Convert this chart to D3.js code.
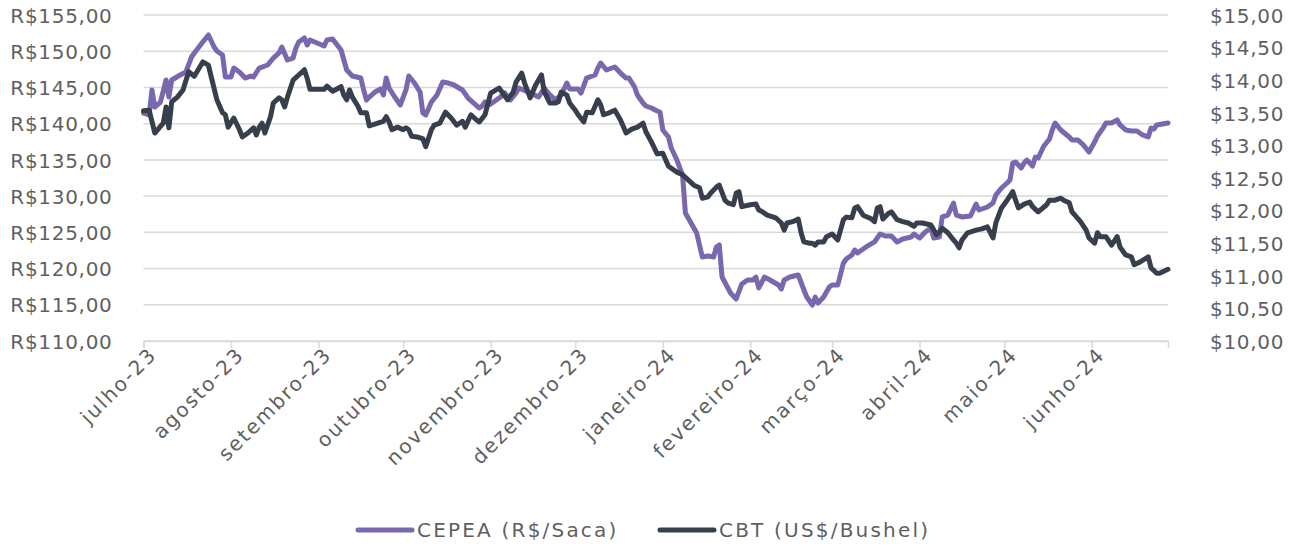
<!DOCTYPE html>
<html><head><meta charset="utf-8">
<script src="https://cdn.jsdelivr.net/npm/d3@7"></script>
<style>
body{margin:0;background:#fff}
svg text{font-family:'DejaVu Sans',sans-serif;fill:#5f5f5f}
</style>
</head><body>
<svg id="chart" width="1290" height="550"></svg>
<script>
const seriesNames = ["CEPEA (R$/Saca)", "CBT (US$/Bushel)"];

const cepeaDates = ["2023-07-01","2023-07-03","2023-07-04","2023-07-05","2023-07-07","2023-07-09","2023-07-10","2023-07-11","2023-07-14","2023-07-16","2023-07-18","2023-07-19","2023-07-22","2023-07-24","2023-07-26","2023-07-27","2023-07-29","2023-07-30","2023-08-01","2023-08-02","2023-08-04","2023-08-06","2023-08-08","2023-08-09","2023-08-11","2023-08-14","2023-08-16","2023-08-18","2023-08-19","2023-08-21","2023-08-23","2023-08-24","2023-08-25","2023-08-27","2023-08-28","2023-08-29","2023-09-03","2023-09-04","2023-09-06","2023-09-09","2023-09-10","2023-09-11","2023-09-13","2023-09-16","2023-09-17","2023-09-18","2023-09-19","2023-09-21","2023-09-23","2023-09-24","2023-09-25","2023-09-26","2023-09-28","2023-09-30","2023-10-02","2023-10-03","2023-10-05","2023-10-07","2023-10-08","2023-10-09","2023-10-11","2023-10-13","2023-10-15","2023-10-17","2023-10-19","2023-10-22","2023-10-24","2023-10-26","2023-10-28","2023-10-29","2023-10-30","2023-10-31","2023-11-01","2023-11-04","2023-11-06","2023-11-08","2023-11-10","2023-11-11","2023-11-15","2023-11-18","2023-11-20","2023-11-22","2023-11-24","2023-11-26","2023-11-28","2023-11-29","2023-12-02","2023-12-03","2023-12-05","2023-12-08","2023-12-09","2023-12-10","2023-12-12","2023-12-15","2023-12-17","2023-12-19","2023-12-20","2023-12-22","2023-12-23","2023-12-25","2023-12-26","2023-12-28","2023-12-30","2023-12-31","2024-01-01","2024-01-03","2024-01-04","2024-01-06","2024-01-08","2024-01-09","2024-01-11","2024-01-13","2024-01-15","2024-01-17","2024-01-19","2024-01-20","2024-01-21","2024-01-22","2024-01-25","2024-01-27","2024-01-29","2024-01-31","2024-02-02","2024-02-03","2024-02-04","2024-02-06","2024-02-08","2024-02-11","2024-02-12","2024-02-13","2024-02-15","2024-02-18","2024-02-20","2024-02-21","2024-02-23","2024-02-24","2024-02-25","2024-02-27","2024-02-29","2024-03-01","2024-03-03","2024-03-05","2024-03-06","2024-03-08","2024-03-09","2024-03-10","2024-03-11","2024-03-13","2024-03-16","2024-03-18","2024-03-20","2024-03-22","2024-03-24","2024-03-26","2024-03-29","2024-03-30","2024-04-01","2024-04-03","2024-04-05","2024-04-06","2024-04-08","2024-04-09","2024-04-11","2024-04-13","2024-04-14","2024-04-16","2024-04-19","2024-04-21","2024-04-22","2024-04-25","2024-04-27","2024-04-28","2024-04-30","2024-05-02","2024-05-03","2024-05-04","2024-05-05","2024-05-07","2024-05-08","2024-05-09","2024-05-11","2024-05-12","2024-05-13","2024-05-14","2024-05-15","2024-05-17","2024-05-18","2024-05-19","2024-05-21","2024-05-24","2024-05-25","2024-05-27","2024-05-29","2024-05-31","2024-06-02","2024-06-03","2024-06-05","2024-06-06","2024-06-08","2024-06-10","2024-06-11","2024-06-13","2024-06-15","2024-06-17","2024-06-19","2024-06-21","2024-06-22","2024-06-23","2024-06-24","2024-06-26","2024-06-28"];
const cepeaValues = [141.47,141.20,144.65,142.30,142.99,146.03,143.68,146.03,146.72,147.13,149.20,149.76,151.27,152.24,150.58,150.03,149.48,146.44,146.44,147.68,147.13,146.30,146.58,146.44,147.68,148.10,149.06,149.76,150.58,148.79,149.06,150.45,151.27,151.83,150.86,151.55,150.72,151.55,151.69,150.17,148.79,147.41,146.58,146.30,144.65,143.27,143.68,144.37,144.79,143.96,146.30,144.92,143.68,142.58,144.65,146.58,145.61,144.37,141.47,141.20,142.99,143.96,145.75,145.61,145.34,144.65,143.54,142.85,142.16,142.44,142.99,142.58,142.71,143.54,144.23,143.27,144.23,144.92,144.23,143.68,144.92,143.96,143.27,143.96,145.61,144.79,144.79,144.23,146.30,146.72,147.68,148.37,147.41,147.82,146.99,146.30,146.30,145.06,143.96,142.85,142.44,142.16,141.75,141.61,139.13,138.16,136.64,134.98,132.91,127.67,126.29,124.91,121.60,121.73,121.60,122.98,123.25,118.83,116.63,115.80,117.87,118.42,118.42,118.83,117.32,118.83,118.42,117.73,117.18,118.42,118.83,119.11,117.04,116.07,114.97,116.07,115.25,116.07,117.45,117.73,117.73,120.77,121.32,121.87,122.56,122.15,122.42,122.98,123.67,124.77,124.49,124.49,123.67,124.08,124.36,124.77,124.22,125.05,125.60,124.22,124.36,127.12,127.39,129.05,127.39,127.12,127.26,128.91,128.08,128.50,129.05,130.15,131.12,131.81,132.22,134.57,134.71,133.88,134.57,134.98,134.16,135.40,135.26,136.09,136.92,137.88,139.13,140.09,139.13,138.16,137.75,137.75,137.06,136.09,137.47,138.30,139.40,140.09,140.09,140.51,139.82,139.13,138.99,138.99,138.44,138.16,139.40,139.26,139.82,139.95,140.09];

const cbtDates = ["2023-07-01","2023-07-03","2023-07-05","2023-07-08","2023-07-09","2023-07-10","2023-07-11","2023-07-13","2023-07-15","2023-07-17","2023-07-19","2023-07-22","2023-07-24","2023-07-25","2023-07-27","2023-07-29","2023-07-30","2023-07-31","2023-08-02","2023-08-04","2023-08-05","2023-08-07","2023-08-09","2023-08-10","2023-08-11","2023-08-12","2023-08-13","2023-08-15","2023-08-16","2023-08-18","2023-08-19","2023-08-20","2023-08-21","2023-08-23","2023-08-25","2023-08-27","2023-08-28","2023-08-29","2023-09-01","2023-09-03","2023-09-04","2023-09-06","2023-09-09","2023-09-10","2023-09-11","2023-09-12","2023-09-13","2023-09-15","2023-09-16","2023-09-18","2023-09-19","2023-09-22","2023-09-24","2023-09-25","2023-09-26","2023-09-27","2023-09-29","2023-10-01","2023-10-02","2023-10-03","2023-10-04","2023-10-06","2023-10-08","2023-10-09","2023-10-11","2023-10-12","2023-10-14","2023-10-16","2023-10-18","2023-10-20","2023-10-22","2023-10-23","2023-10-25","2023-10-27","2023-10-28","2023-10-30","2023-11-01","2023-11-04","2023-11-05","2023-11-07","2023-11-09","2023-11-10","2023-11-12","2023-11-13","2023-11-15","2023-11-17","2023-11-19","2023-11-20","2023-11-22","2023-11-24","2023-11-25","2023-11-26","2023-11-28","2023-11-29","2023-12-01","2023-12-02","2023-12-04","2023-12-05","2023-12-07","2023-12-09","2023-12-10","2023-12-11","2023-12-13","2023-12-15","2023-12-17","2023-12-19","2023-12-21","2023-12-23","2023-12-25","2023-12-26","2023-12-28","2023-12-30","2024-01-01","2024-01-03","2024-01-04","2024-01-06","2024-01-08","2024-01-10","2024-01-12","2024-01-14","2024-01-15","2024-01-17","2024-01-18","2024-01-20","2024-01-21","2024-01-23","2024-01-24","2024-01-26","2024-01-27","2024-01-28","2024-01-29","2024-02-01","2024-02-03","2024-02-04","2024-02-05","2024-02-07","2024-02-10","2024-02-12","2024-02-13","2024-02-14","2024-02-16","2024-02-18","2024-02-19","2024-02-20","2024-02-22","2024-02-23","2024-02-24","2024-02-25","2024-02-27","2024-02-28","2024-03-01","2024-03-03","2024-03-05","2024-03-06","2024-03-08","2024-03-09","2024-03-10","2024-03-12","2024-03-15","2024-03-16","2024-03-17","2024-03-18","2024-03-19","2024-03-21","2024-03-22","2024-03-24","2024-03-26","2024-03-28","2024-03-30","2024-03-31","2024-04-02","2024-04-05","2024-04-07","2024-04-08","2024-04-09","2024-04-11","2024-04-13","2024-04-14","2024-04-15","2024-04-16","2024-04-18","2024-04-21","2024-04-23","2024-04-25","2024-04-27","2024-04-28","2024-04-30","2024-05-02","2024-05-04","2024-05-05","2024-05-06","2024-05-08","2024-05-10","2024-05-11","2024-05-13","2024-05-16","2024-05-17","2024-05-19","2024-05-21","2024-05-22","2024-05-24","2024-05-25","2024-05-28","2024-05-30","2024-05-31","2024-06-02","2024-06-03","2024-06-04","2024-06-06","2024-06-08","2024-06-10","2024-06-11","2024-06-13","2024-06-15","2024-06-16","2024-06-18","2024-06-21","2024-06-22","2024-06-24","2024-06-25","2024-06-28"];
const cbtValues = [13.53,13.54,13.19,13.34,13.59,13.27,13.67,13.74,13.85,14.13,14.06,14.28,14.23,14.05,13.70,13.50,13.47,13.28,13.42,13.24,13.13,13.19,13.27,13.16,13.28,13.34,13.19,13.44,13.65,13.73,13.70,13.59,13.74,14.00,14.08,14.16,14.03,13.86,13.86,13.86,13.91,13.83,13.90,13.77,13.70,13.85,13.74,13.60,13.50,13.50,13.30,13.34,13.37,13.44,13.36,13.24,13.28,13.24,13.27,13.24,13.14,13.13,13.10,12.98,13.24,13.31,13.34,13.51,13.42,13.31,13.37,13.28,13.47,13.39,13.36,13.47,13.80,13.88,13.82,13.70,13.82,13.97,14.11,13.96,13.73,13.93,14.08,13.82,13.65,13.65,13.67,13.82,13.77,13.65,13.54,13.47,13.36,13.51,13.50,13.70,13.62,13.47,13.50,13.54,13.39,13.19,13.25,13.28,13.34,13.21,13.05,12.87,12.88,12.68,12.65,12.59,12.55,12.47,12.39,12.35,12.19,12.21,12.27,12.36,12.39,12.16,12.12,12.09,12.27,12.29,12.06,12.09,12.10,12.01,11.99,11.93,11.89,11.81,11.70,11.81,11.83,11.87,11.66,11.52,11.50,11.50,11.47,11.52,11.52,11.60,11.64,11.55,11.86,11.90,11.89,12.04,12.06,11.93,11.87,11.83,12.04,12.06,11.87,11.96,11.98,11.86,11.83,11.81,11.76,11.81,11.81,11.78,11.63,11.67,11.73,11.66,11.55,11.50,11.43,11.55,11.66,11.70,11.72,11.75,11.58,11.81,12.04,12.16,12.29,12.16,12.04,12.10,12.13,12.06,11.98,12.09,12.16,12.16,12.19,12.16,12.12,11.98,11.83,11.70,11.58,11.50,11.66,11.60,11.60,11.47,11.60,11.44,11.32,11.29,11.17,11.21,11.29,11.12,11.04,11.04,11.10];

const leftTicks = [110,115,120,125,130,135,140,145,150,155];
const rightTicks = [10,10.5,11,11.5,12,12.5,13,13.5,14,14.5,15];
const monthTicks = ["2023-07-01","2023-08-01","2023-09-01","2023-10-01","2023-11-01","2023-12-01","2024-01-01","2024-02-01","2024-03-01","2024-04-01","2024-05-01","2024-06-01"];
const monthLabels = ["julho-23","agosto-23","setembro-23","outubro-23","novembro-23","dezembro-23","janeiro-24","fevereiro-24","março-24","abril-24","maio-24","junho-24"];
const xDomain = ["2023-07-01","2024-06-28"];

const colors = ["#7A68AE", "#373E4C"];
const parse = d3.timeParse("%Y-%m-%d");
const svg = d3.select("#chart");

const plot = {left: 143.5, right: 1168, top: 15, bottom: 341};
const x = d3.scaleTime().domain(xDomain.map(parse)).range([plot.left, plot.right]);
const yL = d3.scaleLinear().domain([110,155]).range([plot.bottom, plot.top]);
const yR = d3.scaleLinear().domain([10,15]).range([plot.bottom, plot.top]);

const fmt = v => v.toFixed(2).replace(".", ",");

// gridlines
svg.append("g").selectAll("line").data(leftTicks).join("line")
  .attr("x1", plot.left).attr("x2", plot.right)
  .attr("y1", d => yL(d)).attr("y2", d => yL(d))
  .attr("stroke", "#D9D9D9").attr("stroke-width", 1.5);

// left axis labels
const gL = svg.append("g").attr("transform", `translate(${plot.left},0)`)
  .call(d3.axisLeft(yL).tickValues(leftTicks).tickSize(0).tickPadding(31).tickFormat(d => "R$" + fmt(d)));
gL.select(".domain").remove();
gL.selectAll("text").style("font-size", "20px").style("letter-spacing", "0.7px").attr("dy", "0.36em");

// right axis labels
const gR = svg.append("g").attr("transform", `translate(${plot.right},0)`)
  .call(d3.axisRight(yR).tickValues(rightTicks).tickSize(0).tickPadding(42).tickFormat(d => "$" + fmt(d)));
gR.select(".domain").remove();
gR.selectAll("text").style("font-size", "20px").style("letter-spacing", "0.7px").attr("dy", "0.36em");

// x axis
const gX = svg.append("g").attr("transform", `translate(0,${plot.bottom})`)
  .call(d3.axisBottom(x).tickValues(monthTicks.map(parse)).tickSize(7).tickFormat((d,i) => monthLabels[i]));
gX.select(".domain").attr("stroke", "#D9D9D9").attr("stroke-width", 1.5);
gX.selectAll(".tick line").attr("stroke", "#D9D9D9").attr("stroke-width", 1.5);
gX.selectAll("text")
  .style("font-size", "20px").style("letter-spacing", "2px")
  .attr("text-anchor", "end")
  .attr("transform", "translate(9,10) rotate(-45)")
  .attr("x", 0).attr("y", 0).attr("dy", "0.35em");

// lines
const lineL = d3.line().x(d => x(d.date)).y(d => yL(d.value));
const lineR = d3.line().x(d => x(d.date)).y(d => yR(d.value));
const cepea = cepeaDates.map((d,i) => ({date: parse(d), value: cepeaValues[i]}));
const cbt = cbtDates.map((d,i) => ({date: parse(d), value: cbtValues[i]}));

svg.append("path").datum(cepea).attr("d", lineL)
  .attr("fill", "none").attr("stroke", colors[0]).attr("stroke-width", 5)
  .attr("stroke-linejoin", "round").attr("stroke-linecap", "round");
svg.append("path").datum(cbt).attr("d", lineR)
  .attr("fill", "none").attr("stroke", colors[1]).attr("stroke-width", 5)
  .attr("stroke-linejoin", "round").attr("stroke-linecap", "round");

// legend
const legendPos = [358, 660];
const lg = svg.append("g").selectAll("g").data(seriesNames).join("g")
  .attr("transform", (d,i) => `translate(${legendPos[i]},530)`);
lg.append("line").attr("x1", 0).attr("x2", 54).attr("y1", 0).attr("y2", 0)
  .attr("stroke", (d,i) => colors[i]).attr("stroke-width", 5).attr("stroke-linecap", "round");
lg.append("text").attr("x", 59).attr("y", 0).attr("dy", "0.36em")
  .style("font-size", "20px").style("letter-spacing", "2.2px").text(d => d);
</script>
</body></html>
